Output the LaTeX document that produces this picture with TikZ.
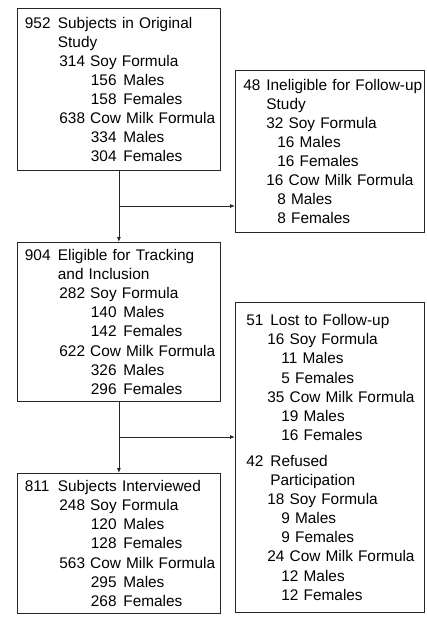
\documentclass[tikz,border=0pt]{standalone}
\usepackage{fontspec}
\setmainfont{Liberation Sans}
\usetikzlibrary{arrows.meta,calc}
\newcommand{\Hd}[3]{\mbox{\makebox[#1][l]{#2}#3}}
\newcommand{\In}[2]{\mbox{\hspace*{#1}#2}}
\tikzset{
  box/.style={draw=black!85, line width=0.8pt, anchor=north west, inner ysep=0pt,
    align=left, font=\fontsize{15.4pt}{19.1pt}\selectfont},
  conn/.style={draw=black!85, line width=0.8pt},
  arr/.style={conn, -{Latex[length=5pt,width=4pt]}}
}
\begin{document}
\begin{tikzpicture}
\useasboundingbox (0pt,0pt) rectangle (427pt,-624pt);
% left column
\node[box, inner xsep=7.5pt, text width=188pt, minimum width=203pt, minimum height=162pt] (b1) at (17pt,-8pt) {%
\Hd{33pt}{952}{Subjects in Original}\\
\In{33pt}{Study}\\
\In{34.5pt}{314 Soy Formula}\\
\In{66pt}{\Hd{32.5pt}{156}{Males}}\\
\In{66pt}{\Hd{32.5pt}{158}{Females}}\\
\In{34.5pt}{638 Cow Milk Formula}\\
\In{66pt}{\Hd{32.5pt}{334}{Males}}\\
\In{66pt}{\Hd{32.5pt}{304}{Females}}};
\node[box, inner xsep=7.5pt, text width=188pt, minimum width=203pt, minimum height=159pt] (b3) at (17pt,-242pt) {%
\Hd{33pt}{904}{Eligible for Tracking}\\
\In{33pt}{and Inclusion}\\
\In{34.5pt}{282 Soy Formula}\\
\In{66pt}{\Hd{32.5pt}{140}{Males}}\\
\In{66pt}{\Hd{32.5pt}{142}{Females}}\\
\In{34.5pt}{622 Cow Milk Formula}\\
\In{66pt}{\Hd{32.5pt}{326}{Males}}\\
\In{66pt}{\Hd{32.5pt}{296}{Females}}};
\node[box, inner xsep=7.5pt, text width=188pt, minimum width=203pt, minimum height=140pt] (b5) at (17pt,-473pt) {%
\Hd{33pt}{811}{Subjects Interviewed}\\
\In{34.5pt}{248 Soy Formula}\\
\In{66pt}{\Hd{32.5pt}{120}{Males}}\\
\In{66pt}{\Hd{32.5pt}{128}{Females}}\\
\In{34.5pt}{563 Cow Milk Formula}\\
\In{66pt}{\Hd{32.5pt}{295}{Males}}\\
\In{66pt}{\Hd{32.5pt}{268}{Females}}};
% right column
\node[box, inner xsep=8pt, text width=173pt, minimum width=189pt, minimum height=162pt] (b2) at (235pt,-70pt) {%
\Hd{23pt}{48}{Ineligible for Follow-up}\\
\In{23pt}{Study}\\
\In{23pt}{32 Soy Formula}\\
\In{34pt}{16 Males}\\
\In{34pt}{16 Females}\\
\In{23pt}{16 Cow Milk Formula}\\
\In{34pt}{8 Males}\\
\In{34pt}{8 Females}};
\node[box, inner xsep=11pt, text width=167pt, minimum width=189pt, minimum height=310pt] (b4) at (235pt,-302pt) {%
\Hd{24pt}{51}{Lost to Follow-up}\\
\In{21pt}{16 Soy Formula}\\
\In{35pt}{11 Males}\\
\In{35pt}{5 Females}\\
\In{21pt}{35 Cow Milk Formula}\\
\In{35pt}{19 Males}\\
\In{35pt}{16 Females}\\[7pt]
\Hd{24pt}{42}{Refused}\\
\In{24pt}{Participation}\\
\In{21pt}{18 Soy Formula}\\
\In{35pt}{9 Males}\\
\In{35pt}{9 Females}\\
\In{21pt}{24 Cow Milk Formula}\\
\In{35pt}{12 Males}\\
\In{35pt}{12 Females}};
% connectors
\draw[arr] (b1.south) -- (b3.north);
\coordinate (j1) at (b1.south |- 0,-206pt);
\draw[arr] (j1) -- (j1 -| b2.west);
\draw[arr] (b3.south) -- (b5.north);
\coordinate (j2) at (b3.south |- 0,-437pt);
\draw[arr] (j2) -- (j2 -| b4.west);
\end{tikzpicture}
\end{document}
